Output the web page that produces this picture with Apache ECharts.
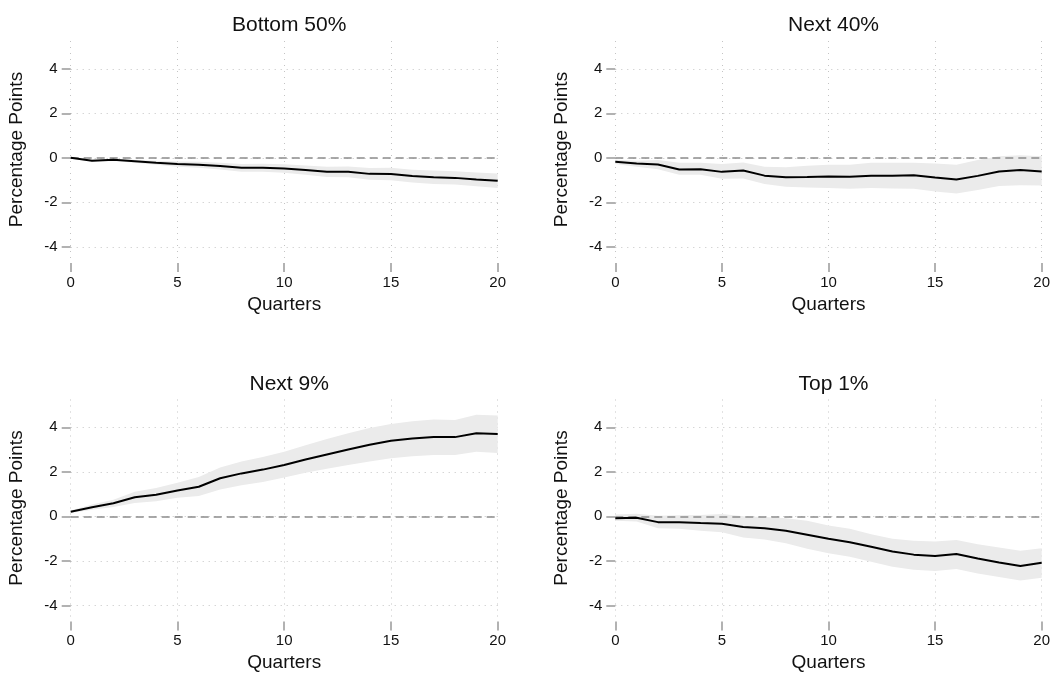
<!DOCTYPE html>
<html>
<head>
<meta charset="utf-8">
<script src="https://cdn.jsdelivr.net/npm/echarts@6/dist/echarts.min.js"></script>
<style>
  html, body { margin: 0; padding: 0; background: #fff; }
  #chart { width: 1060px; height: 675px; }
</style>
</head>
<body>
<div id="chart"></div>
<script>
const quarters = Array.from({ length: 21 }, (_, i) => i);
const yTicks = [-4, -2, 0, 2, 4];
const titles = ['Bottom 50%', 'Next 40%', 'Next 9%', 'Top 1%'];

// Bottom 50%
const bottom50 = [0, -0.13, -0.09, -0.15, -0.22, -0.28, -0.31, -0.37, -0.45, -0.45, -0.48, -0.55, -0.63, -0.63, -0.72, -0.73, -0.82, -0.87, -0.9, -0.97, -1.03];
const bottom50Lo = [0, -0.18, -0.14, -0.22, -0.31, -0.4, -0.44, -0.52, -0.62, -0.63, -0.67, -0.76, -0.86, -0.87, -0.98, -1.01, -1.11, -1.17, -1.2, -1.28, -1.35];
const bottom50Hi = [0, -0.08, -0.05, -0.08, -0.13, -0.16, -0.18, -0.22, -0.28, -0.27, -0.29, -0.34, -0.4, -0.39, -0.46, -0.45, -0.53, -0.57, -0.6, -0.66, -0.7];

// Next 40%
const next40 = [-0.18, -0.25, -0.3, -0.52, -0.51, -0.63, -0.57, -0.8, -0.87, -0.86, -0.84, -0.85, -0.8, -0.8, -0.78, -0.88, -0.97, -0.81, -0.61, -0.55, -0.61];
const next40Lo = [-0.28, -0.4, -0.51, -0.76, -0.76, -0.94, -0.93, -1.18, -1.3, -1.33, -1.36, -1.39, -1.36, -1.38, -1.39, -1.51, -1.6, -1.45, -1.27, -1.23, -1.24];
const next40Hi = [-0.08, -0.13, -0.1, -0.22, -0.22, -0.28, -0.21, -0.4, -0.42, -0.36, -0.31, -0.31, -0.22, -0.22, -0.22, -0.25, -0.31, -0.1, 0.07, 0.12, 0.07];

// Next 9%
const next9 = [0.21, 0.41, 0.59, 0.86, 0.97, 1.16, 1.33, 1.71, 1.93, 2.1, 2.31, 2.55, 2.78, 3.0, 3.22, 3.4, 3.5, 3.56, 3.56, 3.73, 3.7];
const next9Lo = [0.15, 0.3, 0.42, 0.6, 0.68, 0.83, 0.91, 1.21, 1.4, 1.54, 1.74, 1.96, 2.14, 2.31, 2.46, 2.61, 2.7, 2.76, 2.76, 2.9, 2.85];
const next9Hi = [0.26, 0.53, 0.75, 1.1, 1.27, 1.51, 1.77, 2.19, 2.46, 2.67, 2.9, 3.2, 3.47, 3.73, 3.97, 4.15, 4.27, 4.35, 4.33, 4.57, 4.53];

// Top 1%
const top1 = [-0.08, -0.06, -0.26, -0.26, -0.3, -0.33, -0.48, -0.54, -0.65, -0.83, -1.01, -1.16, -1.37, -1.58, -1.72, -1.78, -1.69, -1.89, -2.07, -2.23, -2.08];
const top1Lo = [-0.2, -0.23, -0.53, -0.56, -0.65, -0.71, -0.95, -1.04, -1.21, -1.46, -1.66, -1.81, -2.04, -2.26, -2.4, -2.46, -2.37, -2.57, -2.72, -2.88, -2.76];
const top1Hi = [0.08, 0.12, 0.03, 0.05, 0.06, 0.11, 0, -0.03, -0.08, -0.2, -0.41, -0.56, -0.8, -1.01, -1.1, -1.13, -1.06, -1.25, -1.4, -1.55, -1.43];

const panels = [
  { line: bottom50, lo: bottom50Lo, hi: bottom50Hi },
  { line: next40, lo: next40Lo, hi: next40Hi },
  { line: next9, lo: next9Lo, hi: next9Hi },
  { line: top1, lo: top1Lo, hi: top1Hi }
];

const FONT = 'Liberation Sans, Arial, sans-serif';
const gridPos = [
  { left: 70.7, top: 41, width: 427, height: 217 },
  { left: 615.3, top: 41, width: 426.4, height: 217 },
  { left: 70.7, top: 399.5, width: 427, height: 217 },
  { left: 615.3, top: 399.5, width: 426.4, height: 217 }
];

// confidence band drawn as one polygon: upper edge forward, lower edge back
const bandRenderer = (p) => (params, api) => {
  if (params.dataIndex !== 0) return;
  const pts = [];
  quarters.forEach((q, k) => pts.push(api.coord([q, p.hi[k]])));
  for (let k = quarters.length - 1; k >= 0; k--) pts.push(api.coord([quarters[k], p.lo[k]]));
  return { type: 'polygon', shape: { points: pts }, style: { fill: '#ebebeb' } };
};

const buildOption = () => {
  const grid = [], xAxis = [], yAxis = [], series = [], title = [];
  panels.forEach((p, i) => {
    const g = gridPos[i];
    grid.push(g);
    title.push({
      text: titles[i],
      left: g.left + g.width / 2,
      top: g.top - 31,
      textAlign: 'center',
      textStyle: { fontFamily: FONT, fontSize: 21, fontWeight: 'normal', color: '#111' }
    });
    xAxis.push({
      type: 'value', gridIndex: i, min: 0, max: 20, interval: 5,
      offset: 5,
      name: 'Quarters', nameLocation: 'middle', nameGap: 32,
      nameTextStyle: { fontFamily: FONT, fontSize: 19, color: '#111' },
      axisLine: { show: false, onZero: false },
      axisTick: { show: true, length: 9, lineStyle: { color: '#999', width: 1.5 } },
      axisLabel: { margin: 12, fontFamily: FONT, fontSize: 15, color: '#111' },
      splitLine: { show: true, lineStyle: { color: '#c4c4c4', type: [1, 5], width: 1 } }
    });
    yAxis.push({
      type: 'value', gridIndex: i, min: -4.5, max: 5.25,
      name: 'Percentage Points', nameLocation: 'middle', nameGap: 44,
      nameTextStyle: { fontFamily: FONT, fontSize: 19, color: '#111' },
      axisLine: { show: false, onZero: false },
      axisTick: { show: true, length: 9, customValues: yTicks, lineStyle: { color: '#999', width: 1.5 } },
      axisLabel: { margin: 13, fontFamily: FONT, fontSize: 15, color: '#111', customValues: yTicks },
      splitLine: { show: true, lineStyle: { color: '#c4c4c4', type: [1, 5], width: 1 } }
    });
    series.push({
      type: 'custom', xAxisIndex: i, yAxisIndex: i,
      data: quarters.map((q, k) => [q, p.lo[k], p.hi[k]]),
      encode: { x: 0, y: [1, 2] },
      renderItem: bandRenderer(p),
      silent: true, z: 1
    });
    series.push({
      type: 'line', xAxisIndex: i, yAxisIndex: i,
      data: quarters.map((q, k) => [q, p.line[k]]),
      symbol: 'none', lineStyle: { color: '#000', width: 2 },
      markLine: {
        silent: true, symbol: 'none', label: { show: false },
        lineStyle: { color: '#8c8c8c', type: [8, 5], width: 1.5 },
        data: [{ yAxis: 0 }]
      },
      z: 5
    });
  });
  return { animation: false, backgroundColor: '#fff', title, grid, xAxis, yAxis, series };
};

const chart = echarts.init(document.getElementById('chart'));
chart.setOption(buildOption());
</script>
</body>
</html>
